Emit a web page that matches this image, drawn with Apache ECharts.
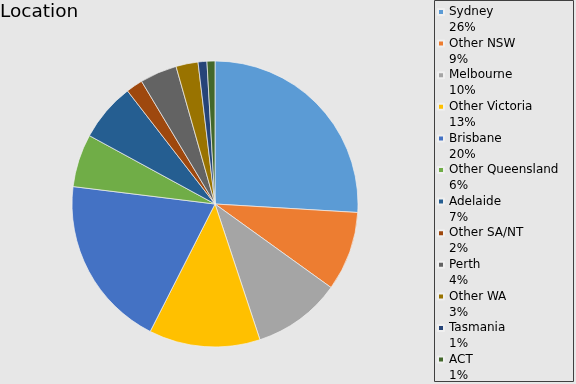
<!DOCTYPE html>
<html><head><meta charset="utf-8">
<script src="https://cdn.jsdelivr.net/npm/echarts@6/dist/echarts.min.js"></script>
<style>html,body{margin:0;padding:0;background:#E7E7E7}#c{width:576px;height:384px}</style>
</head><body><div id="c"></div>
<script>
const categories = ['Sydney','Other NSW','Melbourne','Other Victoria','Brisbane','Other Queensland','Adelaide','Other SA/NT','Perth','Other WA','Tasmania','ACT'];
const values = [26.0, 9.0, 10.0, 12.6, 19.5, 6.0, 6.6, 1.9, 4.2, 2.5, 1.0, 0.9];
const pctLabels = ['26%','9%','10%','13%','20%','6%','7%','2%','4%','3%','1%','1%'];
const colors = ['#5B9BD5','#ED7D31','#A5A5A5','#FFC000','#4472C4','#70AD47','#255E91','#9E480E','#636363','#997300','#264478','#43682B'];

const chart = echarts.init(document.getElementById('c'));
chart.setOption({
  backgroundColor: '#E7E7E7',
  animation: false,
  color: colors,
  title: {
    text: 'Location', left: 0, top: 3, padding: 0,
    textStyle: {fontFamily: 'DejaVu Sans', fontSize: 18.5, fontWeight: 'normal', color: '#000'}
  },
  graphic: [{
    type: 'rect', shape: {x: 434.5, y: 0.5, width: 139, height: 381},
    style: {fill: 'none', stroke: '#404040', lineWidth: 1}, z: 0
  }],
  legend: {
    orient: 'vertical', left: 437, top: -12, padding: 0, height: 600,
    itemWidth: 6, itemHeight: 6, itemGap: -16.4, icon: 'rect',
    data: categories,
    formatter: function (name) { return '\n' + name + '\n' + pctLabels[categories.indexOf(name)]; },
    textStyle: {fontFamily: 'DejaVu Sans', fontSize: 12, color: '#000', lineHeight: 16}
  },
  series: [{
    type: 'pie', center: [215, 204], radius: 143, startAngle: 90, clockwise: true,
    label: {show: false}, labelLine: {show: false},
    itemStyle: {borderColor: '#F0F0F0', borderWidth: 0.7},
    emphasis: {disabled: true},
    data: categories.map((c, i) => ({name: c, value: values[i]}))
  }]
});
</script></body></html>
